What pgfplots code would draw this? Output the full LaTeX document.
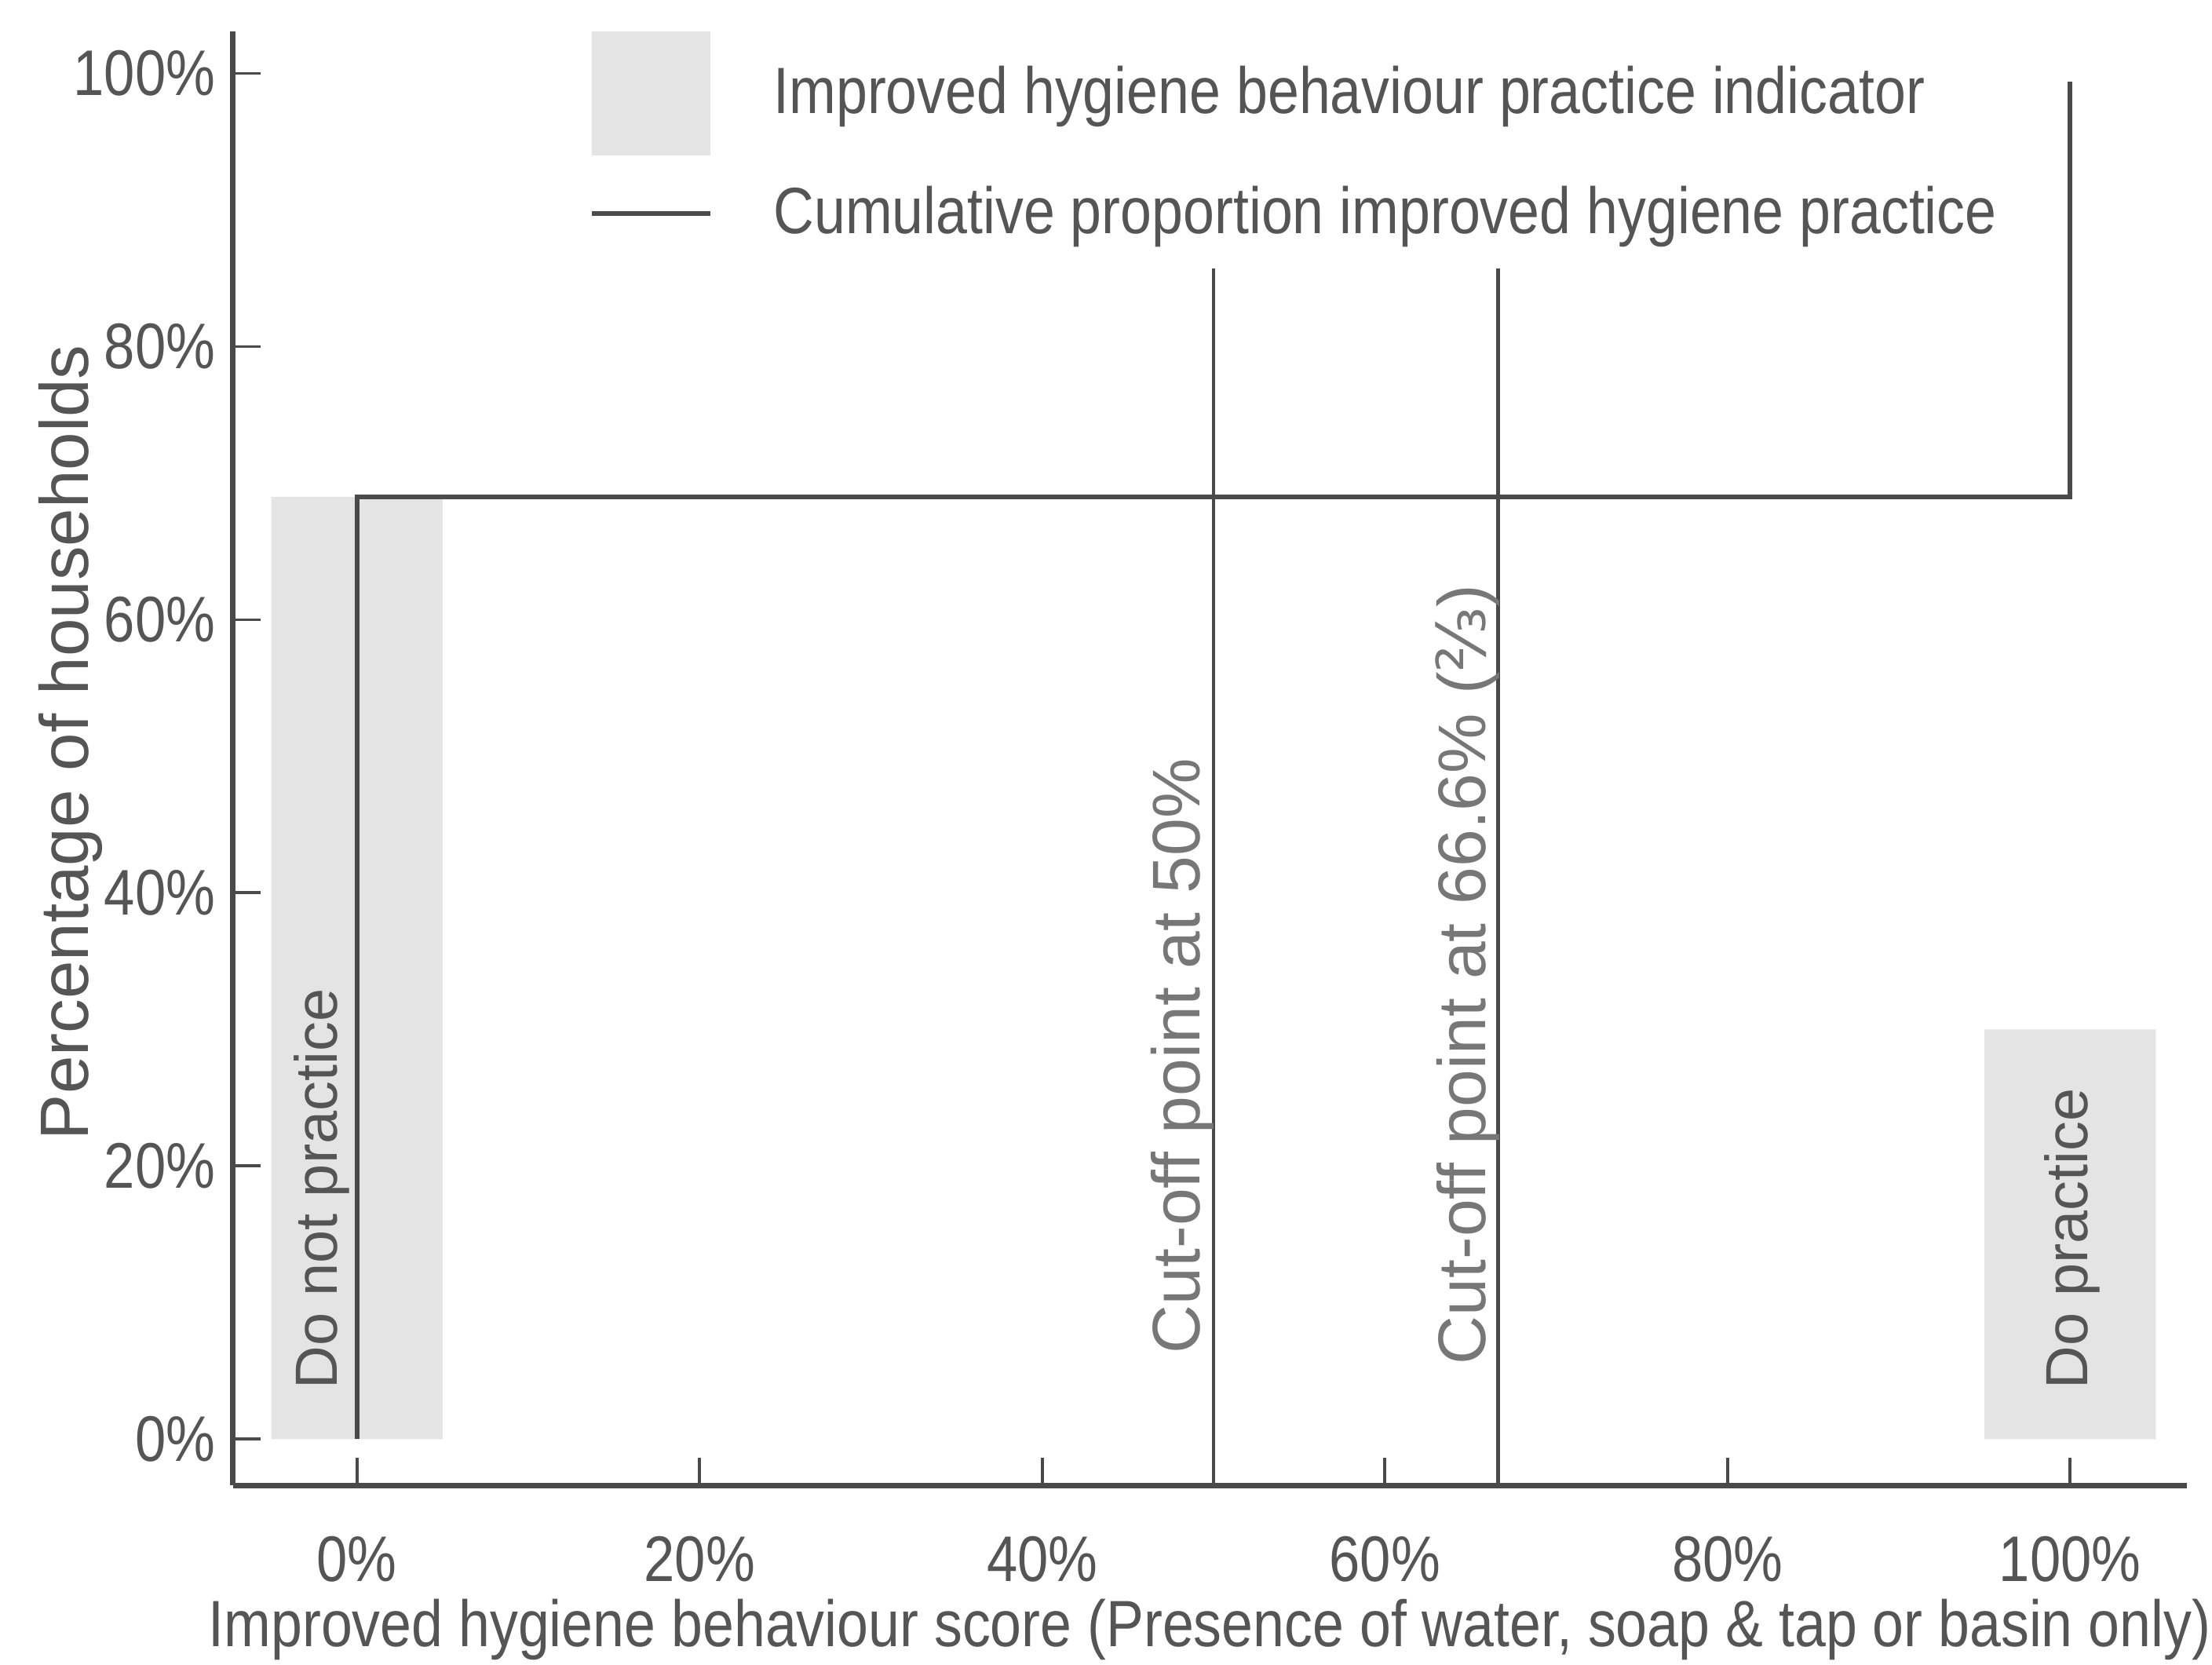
\documentclass[border=0pt]{standalone}
\usepackage{fontspec}
\setmainfont{Liberation Sans}[FakeStretch=0.86]
\newfontfamily\plain{Liberation Sans}
\newfontfamily\dejavu{DejaVu Sans}
\usepackage{pgfplots}
\pgfplotsset{compat=1.18}
\definecolor{inkgray}{HTML}{4A4A4A}
\definecolor{txtgray}{HTML}{555555}
\definecolor{bandgray}{HTML}{E4E4E4}

\begin{document}
\begin{tikzpicture}[font=\fontsize{13.2}{16}\selectfont]
\begin{axis}[name=ax, scale only axis,
    width=13.85cm, height=10.31cm,
    xmin=-7.25, xmax=106.8, ymin=-3.4, ymax=103.1,
    axis lines=left, axis line style={-, inkgray, line width=1.1pt},
    tick align=inside, major tick length=0.2cm,
    tick style={inkgray, line width=0.6pt},
    xtick={0,20,40,60,80,100}, ytick={0,20,40,60,80,100},
    xticklabels={0\%,20\%,40\%,60\%,80\%,100\%},
    yticklabels={0\%,20\%,40\%,60\%,80\%,100\%},
    ticklabel style={text=txtgray, font=\fontsize{13}{16}\selectfont},
    xticklabel style={anchor=center, yshift=-0.52cm},
    xlabel={Improved hygiene behaviour score (Presence of water, soap \& tap or basin only)},
    ylabel={Percentage of households},
    xlabel style={at={(axis description cs:0.5,-0.099)}, anchor=center, text=txtgray},
    ylabel style={at={(axis description cs:-0.083,0.511)}, anchor=center, text=txtgray,
        font=\plain\fontsize{13.8}{17}\selectfont},
    legend style={at={(axis cs:13.6,103.1)}, anchor=north west, draw=none, fill=none,
        inner sep=0pt, outer sep=0pt, row sep=0.22cm, column sep=0.43cm,
        nodes={inner sep=0pt, text=txtgray}},
    legend cell align=left,
    clip=false,
]
% grey indicator bands
\addplot[fill=bandgray, draw=none,
    legend image code/.code={\fill[bandgray] (0cm,-0.44cm) rectangle (0.84cm,0.44cm);}]
    coordinates {(-5,0) (5,0) (5,69) (-5,69) (-5,0)};
\addlegendentry{Improved hygiene behaviour practice indicator}
\addplot[fill=bandgray, draw=none, forget plot]
    coordinates {(95,0) (105,0) (105,30) (95,30) (95,0)};
% cumulative proportion
\addplot[inkgray, line width=0.9pt,
    legend image code/.code={\draw[inkgray, line width=0.9pt] (0cm,0cm) -- (0.84cm,0cm);}]
    coordinates {(0,0) (0,69) (100,69) (100,99.4)};
\addlegendentry{Cumulative proportion improved hygiene practice}
% cut-off points
\addplot[inkgray, line width=0.7pt, forget plot] coordinates {(50,-3.4) (50,85.7)};
\addplot[inkgray, line width=0.7pt, forget plot] coordinates {(66.6,-3.4) (66.6,85.7)};

\node[rotate=90, anchor=west, inner sep=0pt, text=txtgray, font=\plain\fontsize{12}{15}\selectfont]
    at (axis cs:-2.06,3.6) {Do not practice};
\node[rotate=90, anchor=west, inner sep=0pt, text=txtgray, font=\plain\fontsize{12}{15}\selectfont]
    at (axis cs:100.1,3.6) {Do practice};
\node[rotate=90, anchor=west, inner sep=0pt, text=txtgray!80, font=\plain\fontsize{13.6}{16}\selectfont]
    at (axis cs:48.2,6.2) {Cut-off point at 50\%};
\node[rotate=90, anchor=west, inner sep=0pt, text=txtgray!80, font=\plain\fontsize{13.6}{16}\selectfont]
    at (axis cs:64.8,5.4) {Cut-off point at 66.6\% ({\dejavu ⅔})};
\end{axis}
\pgfresetboundingbox
\path[use as bounding box] ([shift={(-1.65cm,-1.27cm)}]ax.south west) rectangle ++(15.68cm,11.80cm);
\end{tikzpicture}
\end{document}
